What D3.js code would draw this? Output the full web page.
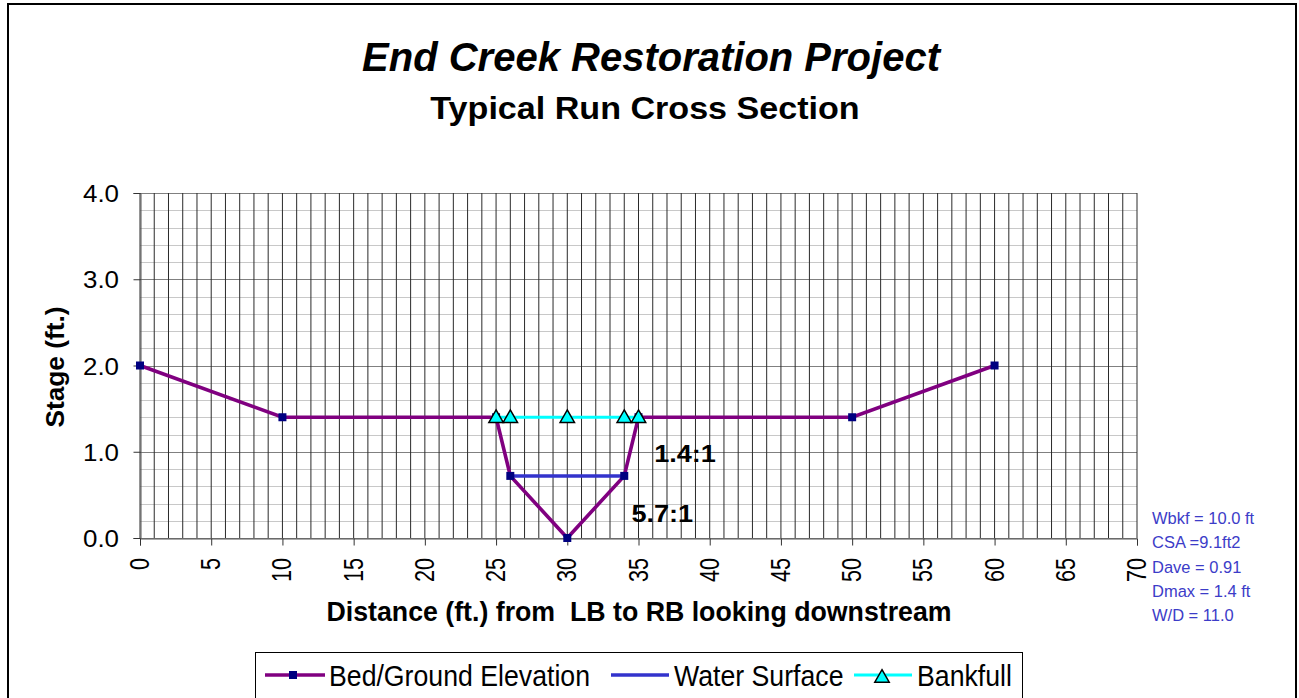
<!DOCTYPE html>
<html>
<head>
<meta charset="utf-8">
<script src="https://cdn.jsdelivr.net/npm/d3@7"></script>
<style>
  body { margin: 0; background: #fff; }
  svg { display: block; font-family: "Liberation Sans", Arial, sans-serif; }
</style>
</head>
<body>
<svg id="chart" width="1299" height="698"></svg>
<script>
// chart data
const bedX = [0, 10, 25, 26, 30, 34, 35, 50, 60];
const bedY = [2.0, 1.4, 1.4, 0.72, 0.0, 0.72, 1.4, 1.4, 2.0];
const waterX = [26, 34];
const waterY = [0.72, 0.72];
const bankX = [25, 26, 30, 34, 35];
const bankY = [1.4, 1.4, 1.4, 1.4, 1.4];
const xTicks = d3.range(0, 71, 5);
const yTicks = [0, 1, 2, 3, 4];
const statLines = ["Wbkf = 10.0 ft", "CSA =9.1ft2", "Dave = 0.91", "Dmax = 1.4 ft", "W/D = 11.0"];
const slopeNotes = [{ label: "1.4:1", x: 36.1, y: 0.885 }, { label: "5.7:1", x: 34.5, y: 0.185 }];
const legendItems = ["Bed/Ground Elevation", "Water Surface", "Bankfull"];

const svg = d3.select("#chart");
const plot = { left: 140, right: 1137, top: 193, bottom: 538 };

const x = d3.scaleLinear().domain([0, 70]).range([plot.left, plot.right]);
const y = d3.scaleLinear().domain([0, 4]).range([plot.bottom, plot.top]);

const purple = "#800080", navy = "#000080", blue = "#3333cc", cyan = "#00ffff";

// outer chart border
svg.append("rect")
    .attr("x", 8).attr("y", 4)
    .attr("width", 1288).attr("height", 710)
    .attr("fill", "none").attr("stroke", "#000").attr("stroke-width", 2);

// text helper: the Excel export stretches text a little
function label(g, txt, px, py, opts) {
    return g.append("text")
        .attr("transform", `translate(${px},${py}) rotate(${opts.rotate || 0}) scale(${opts.sx || 1},1)`)
        .attr("text-anchor", opts.anchor || "start")
        .attr("font-size", opts.size)
        .attr("font-weight", opts.weight || "normal")
        .attr("font-style", opts.style || "normal")
        .attr("fill", opts.fill || "#000")
        .text(txt);
}

// titles
label(svg, "End Creek Restoration Project", 651, 71, { size: 40, weight: "bold", style: "italic", anchor: "middle", sx: 1.0 });
label(svg, "Typical Run Cross Section", 645, 119, { size: 31, weight: "bold", anchor: "middle", sx: 1.1 });

// grid
const grid = svg.append("g");
grid.selectAll(".hline")
    .data(d3.range(0, 21).map(i => i * 0.2))
    .join("line")
    .attr("x1", plot.left).attr("x2", plot.right)
    .attr("y1", d => Math.round(y(d)) + 0.5).attr("y2", d => Math.round(y(d)) + 0.5)
    .attr("stroke", (d, i) => i % 5 === 0 ? "#808080" : "#c8c8c8");
grid.selectAll(".vline")
    .data(d3.range(0, 71))
    .join("line")
    .attr("x1", d => x(d)).attr("x2", d => x(d))
    .attr("y1", plot.top).attr("y2", plot.bottom)
    .attr("stroke", "#2a2a2a").attr("stroke-width", 1);

// axes
const xAxis = svg.append("g")
    .attr("transform", `translate(0,${Math.round(y(0)) + 0.5})`)
    .call(d3.axisBottom(x).tickValues(xTicks).tickSize(7).tickFormat(""));
xAxis.select(".domain").attr("stroke", "#555");
xAxis.selectAll(".tick line").attr("stroke", "#333");

const yAxis = svg.append("g")
    .attr("transform", `translate(${plot.left + 0.5},0)`)
    .call(d3.axisLeft(y).tickValues(yTicks).tickSize(7).tickFormat(""));
yAxis.select(".domain").attr("stroke", "#555");
yAxis.selectAll(".tick line").attr("stroke", "#333");

yTicks.forEach(v => {
    label(svg, d3.format(".1f")(v), 119, y(v) + 9, { size: 24, anchor: "end", sx: 1.08 });
});
xTicks.forEach(v => {
    label(svg, String(v), x(v) + 9, 558, { size: 27, anchor: "end", rotate: -90, sx: 0.8 });
});

label(svg, "Stage (ft.)", 64, 367, { size: 25, weight: "bold", anchor: "middle", rotate: -90, sx: 1.05 });
label(svg, "Distance (ft.) from  LB to RB looking downstream", 639, 621, { size: 27, weight: "bold", anchor: "middle", sx: 0.99 }).style("white-space", "pre");

// series
const line = d3.line().x(d => x(d[0])).y(d => y(d[1]));
const bed = d3.zip(bedX, bedY);
const water = d3.zip(waterX, waterY);
const bank = d3.zip(bankX, bankY);

svg.append("path").datum(bank).attr("d", line)
    .attr("fill", "none").attr("stroke", cyan).attr("stroke-width", 3.2);
svg.append("path").datum(water).attr("d", line)
    .attr("fill", "none").attr("stroke", blue).attr("stroke-width", 3.5);
svg.append("path").datum(bed).attr("d", line)
    .attr("fill", "none").attr("stroke", purple).attr("stroke-width", 3.6);

svg.append("g").selectAll("rect")
    .data(bed).join("rect")
    .attr("x", d => x(d[0]) - 4).attr("y", d => y(d[1]) - 4)
    .attr("width", 8).attr("height", 8).attr("fill", navy);

const tri = d3.symbol().type(d3.symbolTriangle).size(90);
svg.append("g").selectAll("path")
    .data(bank).join("path")
    .attr("transform", d => `translate(${x(d[0])},${y(d[1]) + 1})`)
    .attr("d", tri)
    .attr("fill", cyan).attr("stroke", "#000").attr("stroke-width", 1.5);

// slope notes
slopeNotes.forEach(n => {
    label(svg, n.label, x(n.x), y(n.y), { size: 24, weight: "bold", sx: 1.13 });
});

// stats text
statLines.forEach((s, i) => {
    label(svg, s, 1152, 524 + i * 24.3, { size: 17, fill: "#3c3cc8", sx: 0.97 });
});

// legend
const lg = svg.append("g");
lg.append("rect").attr("x", 255.5).attr("y", 652.5).attr("width", 767).attr("height", 60)
    .attr("fill", "#fff").attr("stroke", "#000").attr("stroke-width", 1);
const ly = 675;
lg.append("line").attr("x1", 265).attr("x2", 325).attr("y1", ly).attr("y2", ly)
    .attr("stroke", purple).attr("stroke-width", 3.6);
lg.append("rect").attr("x", 289).attr("y", ly - 4).attr("width", 8).attr("height", 8).attr("fill", navy);
label(lg, legendItems[0], 329, ly + 11, { size: 29, sx: 0.92 });

lg.append("line").attr("x1", 611).attr("x2", 669).attr("y1", ly).attr("y2", ly)
    .attr("stroke", blue).attr("stroke-width", 3.5);
label(lg, legendItems[1], 674, ly + 11, { size: 29, sx: 0.92 });

lg.append("line").attr("x1", 854).attr("x2", 912).attr("y1", ly).attr("y2", ly)
    .attr("stroke", cyan).attr("stroke-width", 3.2);
lg.append("path").attr("transform", `translate(882,${ly + 3})`).attr("d", tri)
    .attr("fill", cyan).attr("stroke", "#000").attr("stroke-width", 1.5);
label(lg, legendItems[2], 917, ly + 11, { size: 29, sx: 0.92 });
</script>
</body>
</html>
